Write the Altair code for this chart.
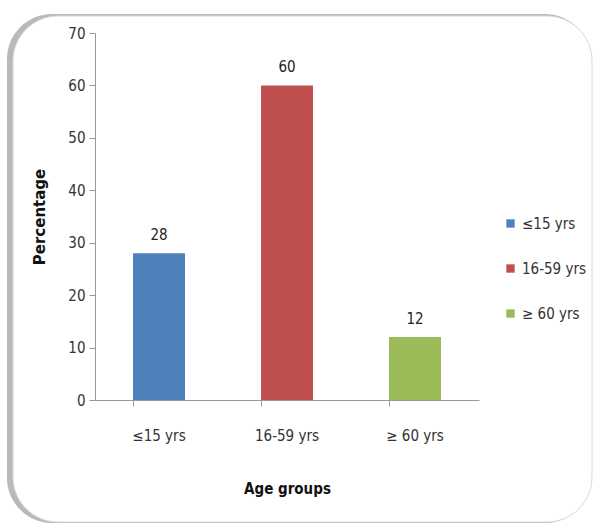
import altair as alt
import pandas as pd

categories = ["≤15 yrs", "16-59 yrs", "≥ 60 yrs"]
values = [28, 60, 12]
colors = ["#4F81BD", "#C0504D", "#9BBB59"]

df = pd.DataFrame({"group": categories, "pct": values})
FONT = "DejaVu Sans Condensed, Liberation Sans Narrow, Liberation Sans"

frame_df = pd.DataFrame({"k": [0]})
shadow = alt.Chart(frame_df).mark_rect(cornerRadius=45, fill="#8a8a8a", opacity=0.6).encode(
    x=alt.value(-88), x2=alt.value(495), y=alt.value(-19), y2=alt.value(490)
)
frame = alt.Chart(frame_df).mark_rect(cornerRadius=45, fill="white", stroke="#d8d8d8", strokeWidth=1).encode(
    x=alt.value(-82), x2=alt.value(497), y=alt.value(-17), y2=alt.value(489)
)

base = alt.Chart(df)
x = alt.X("group:N", sort=categories, title="Age groups",
          scale=alt.Scale(paddingInner=0.594, paddingOuter=0.297),
          axis=alt.Axis(labelAngle=0, bandPosition=0, labelPadding=22, titlePadding=38,
                        tickSize=6, labelFontSize=15, titleFontSize=15, labelFont=FONT,
                        titleFont=FONT, titleFontWeight="bold", labelColor="#333333",
                        titleColor="#111111", domainColor="#999999", tickColor="#999999",
                        zindex=2))
y = alt.Y("pct:Q", title="Percentage",
          scale=alt.Scale(domain=[0, 70]),
          axis=alt.Axis(values=[0, 10, 20, 30, 40, 50, 60, 70], grid=False, tickSize=6,
                        labelFontSize=15, titleFontSize=15, labelFont=FONT, titleFont="DejaVu Sans, Liberation Sans",
                        titleFontWeight="bold", labelColor="#333333", titleColor="#111111",
                        domainColor="#999999", tickColor="#999999", titlePadding=20, labelPadding=4,
                        zindex=2))

bars = base.mark_bar().encode(
    x=x, y=y,
    color=alt.Color("group:N", sort=categories,
                    scale=alt.Scale(domain=categories, range=colors),
                    legend=alt.Legend(title=None, orient="none", legendX=408, legendY=183,
                                      symbolType="square", symbolSize=70, symbolStrokeWidth=0,
                                      labelFontSize=15, labelFont=FONT, labelColor="#333333",
                                      rowPadding=29, labelOffset=4, zindex=2)),
)
labels = base.mark_text(dy=-18, fontSize=15, font=FONT, color="#222222").encode(
    x=alt.X("group:N", sort=categories), y="pct:Q", text="pct:Q"
)

chart = alt.layer(shadow, frame, bars, labels).properties(
    width=384, height=367,
    autosize=alt.AutoSizeParams(type="none"),
    padding={"left": 95, "top": 33, "right": 115, "bottom": 131},
    background="white",
).configure_view(stroke=None)

chart.save("out.html", embed_options={"renderer": "svg", "actions": False})
